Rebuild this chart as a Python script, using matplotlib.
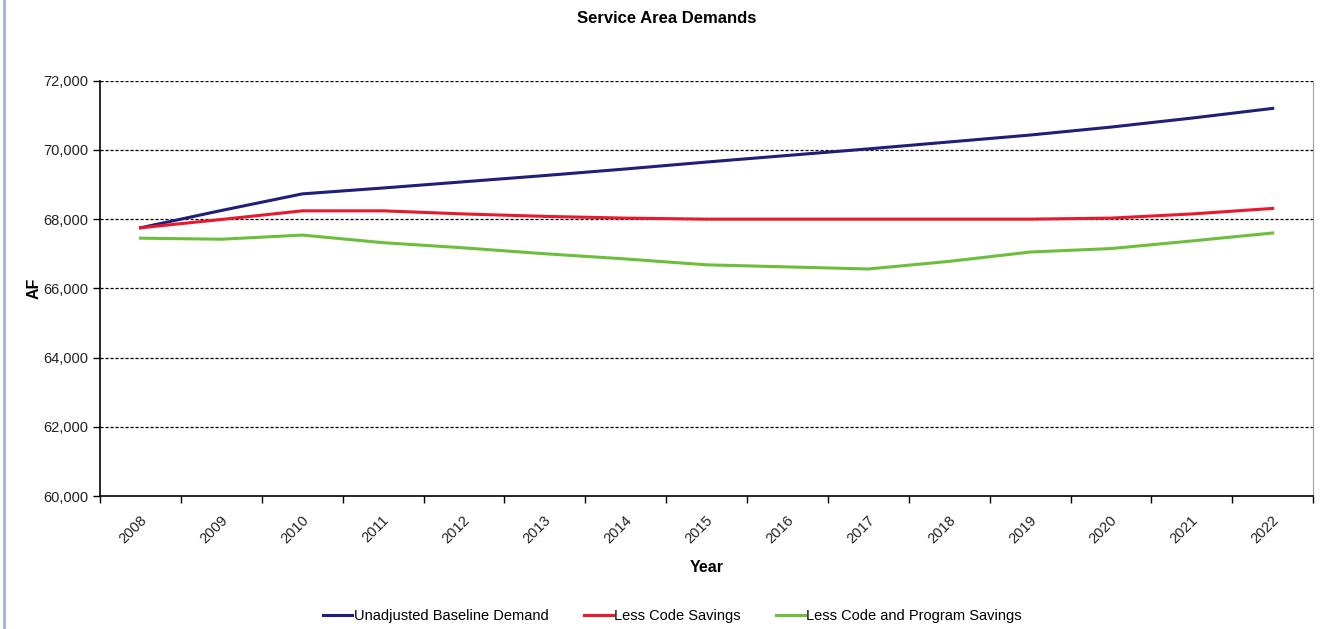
import matplotlib
matplotlib.use('Agg')
import matplotlib.pyplot as plt
from matplotlib.lines import Line2D
from matplotlib.ticker import FuncFormatter, FixedLocator
import numpy as np

plt.rcParams['font.family'] = ['Liberation Sans', 'DejaVu Sans']

years = [2008, 2009, 2010, 2011, 2012, 2013, 2014, 2015, 2016, 2017, 2018, 2019, 2020, 2021, 2022]
baseline = [67750, 68250, 68730, 68900, 69080, 69260, 69450, 69650, 69840, 70030, 70230, 70430, 70660, 70920, 71200]
code_savings = [67750, 67990, 68240, 68240, 68150, 68080, 68030, 68000, 68000, 68000, 68000, 68000, 68030, 68150, 68310]
program_savings = [67450, 67420, 67540, 67320, 67170, 67000, 66850, 66680, 66620, 66560, 66780, 67050, 67150, 67370, 67600]

series_names = ['Unadjusted Baseline Demand', 'Less Code Savings', 'Less Code and Program Savings']
colors = ['#1f1f7a', '#e8192c', '#6cbf3c']

fig = plt.figure(figsize=(13.2, 6.29), dpi=100)
ax = fig.add_axes([0.0758, 0.2114, 0.919, 0.6603])

x = np.arange(len(years))
for vals, name, c in zip([baseline, code_savings, program_savings], series_names, colors):
    ax.plot(x, vals, color=c, lw=2.2, label=name)

ax.set_xlim(-0.5, len(years) - 0.5)
ax.set_ylim(60000, 72000)
ax.set_yticks(np.arange(60000, 72001, 2000))
ax.yaxis.set_major_formatter(FuncFormatter(lambda v, p: '{:,.0f}'.format(v)))
ax.grid(axis='y', color='black', linestyle=(0, (2.5, 1.5)), lw=0.9)

# category labels centred, tick marks on category boundaries
ax.xaxis.set_major_locator(FixedLocator(np.arange(-0.5, len(years), 1.0)))
ax.xaxis.set_minor_locator(FixedLocator(x))
ax.set_xticklabels([])
ax.set_xticklabels([str(y) for y in years], minor=True, rotation=45, ha='right', va='top',
                   rotation_mode='anchor', fontsize=10.5)
ax.tick_params(axis='x', which='major', length=5, width=1, direction='out')
ax.tick_params(axis='x', which='minor', length=0, pad=12)
ax.tick_params(axis='y', length=5, width=1, direction='out', labelsize=10.5, labelcolor='#222222')
for lbl in ax.get_xticklabels(minor=True):
    lbl.set_color('#222222')
    lbl.set_transform(lbl.get_transform() + matplotlib.transforms.ScaledTranslation(-0.01, 0, fig.dpi_scale_trans))

ax.spines['top'].set_visible(False)
ax.spines['right'].set_color('#a0a0a0')
ax.spines['right'].set_linewidth(0.8)
ax.spines['left'].set_linewidth(1.2)
ax.spines['bottom'].set_linewidth(1.2)

fig.text(0.505, 0.971, 'Service Area Demands', fontsize=12, fontweight='bold', ha='center', va='center')
ax.set_xlabel('Year', fontsize=11.5, fontweight='bold', labelpad=10)
ax.set_ylabel('AF', fontsize=11.5, fontweight='bold', labelpad=1)

ax.legend(loc='upper center', bbox_to_anchor=(0.472, -0.24), ncol=3, frameon=False,
          fontsize=10.5, handlelength=2.0, handletextpad=0.1, columnspacing=2.4)

# thin blue border at the left edge of the picture
fig.add_artist(Line2D([0.003, 0.003], [0, 1], transform=fig.transFigure, color='#9fb2e0', lw=2))

fig.savefig('out.png', dpi=100)
